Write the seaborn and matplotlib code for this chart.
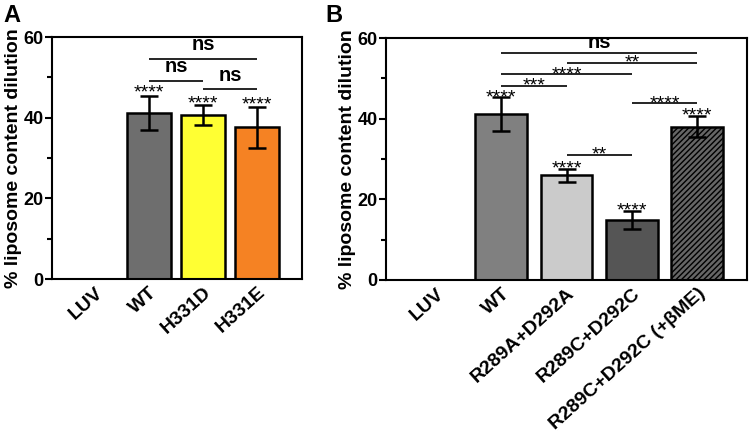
import matplotlib
matplotlib.use("Agg")
import matplotlib.pyplot as plt
import matplotlib.transforms as mtrans
import seaborn as sns
import pandas as pd
import numpy as np
from matplotlib.ticker import MultipleLocator

sns.set_style("ticks")
plt.rcParams['font.family'] = ['Liberation Sans', 'DejaVu Sans']
plt.rcParams['hatch.linewidth'] = 1.0
for k in ['text.color', 'axes.labelcolor', 'xtick.color', 'ytick.color', 'axes.edgecolor']:
    plt.rcParams[k] = 'black'

# Panel A data
cats_a = ["LUV", "WT", "H331D", "H331E"]
mean_a = [0.0, 41.2, 40.7, 37.7]
err_lo_a = [0.0, 4.2, 2.6, 5.2]
err_hi_a = [0.0, 4.2, 2.5, 4.9]
colors_a = ["#ffffff", "#6e6e6e", "#ffff33", "#f58223"]

# Panel B data
cats_b = ["LUV", "WT", "R289A+D292A", "R289C+D292C", "R289C+D292C (+βME)"]
mean_b = [0.0, 41.2, 26.0, 14.9, 38.0]
err_lo_b = [0.0, 4.2, 1.7, 2.3, 2.6]
err_hi_b = [0.0, 4.1, 1.6, 2.1, 2.6]
colors_b = ["#ffffff", "#808080", "#cbcbcb", "#555555", "#666666"]

# significance annotations: (x1, x2, y_line, label, label_center_y)
sig_a = [(1, 3, 54.5, "ns", 58.1), (1, 2, 49.1, "ns", 52.7), (2, 3, 47.1, "ns", 50.4)]
bar_stars_a = [(1, "****", 47.9), (2, "****", 45.2), (3, "****", 44.9)]
sig_b = [(1, 4, 56.4, "ns", 58.7), (2, 4, 53.9, "**", 55.4), (1, 3, 51.0, "****", 52.5),
         (1, 2, 48.1, "***", 49.8), (3, 4, 43.8, "****", 45.4), (2, 3, 30.9, "**", 32.7)]
bar_stars_b = [(1, "****", 46.9), (2, "****", 29.1), (3, "****", 18.8), (4, "****", 42.3)]

fig = plt.figure(figsize=(7.5, 4.45), dpi=100)
axA = fig.add_axes([0.0693, 0.373, 0.3333, 0.5438])
axB = fig.add_axes([0.5147, 0.3708, 0.4813, 0.5438])

STAR_FS = 14
NS_FS = 14.5
PX_PER_UNIT = 242 / 60.0


def pt2units(pt):
    return pt * 100 / 72.0 / PX_PER_UNIT


def draw(ax, cats, mean, lo, hi, colors, width, xlim, sig, stars):
    df = pd.DataFrame({"cat": cats, "val": mean})
    sns.barplot(data=df, x="cat", y="val", hue="cat", order=cats, hue_order=cats,
                palette=colors, width=width, edgecolor="black", linewidth=1.8,
                legend=False, ax=ax, errorbar=None, saturation=1)
    xs = np.arange(len(cats))
    for i in range(1, len(cats)):
        ax.errorbar(xs[i], mean[i], yerr=[[lo[i]], [hi[i]]], fmt="none",
                    ecolor="black", elinewidth=1.8, capsize=6.5, capthick=1.8, zorder=5)
    ax.set_xlim(*xlim)
    ax.set_ylim(0, 60)
    ax.yaxis.set_major_locator(MultipleLocator(20))
    ax.yaxis.set_minor_locator(MultipleLocator(10))
    ax.tick_params(axis="y", which="major", length=5, width=1.5, labelsize=13, pad=1)
    ax.tick_params(axis="y", which="minor", length=3.5, width=1.5)
    ax.tick_params(axis="x", length=0, labelsize=14, pad=3)
    for lab in ax.get_yticklabels():
        lab.set_fontweight("bold")
    ax.set_xticks(xs)
    ax.set_xticklabels(cats, rotation=42, ha="right", va="center",
                       rotation_mode="anchor", fontweight="bold")
    off = mtrans.ScaledTranslation(6 / 100.0, -7 / 100.0, fig.dpi_scale_trans)
    for lab in ax.get_xticklabels():
        lab.set_transform(lab.get_transform() + off)
    for sp in ax.spines.values():
        sp.set_visible(True)
        sp.set_linewidth(1.5)
        sp.set_color("black")
    ax.set_xlabel("")
    ax.set_ylabel("% liposome content dilution", fontsize=14, fontweight="bold", labelpad=1)
    for x1, x2, y, lab, cy in sig:
        ax.plot([x1, x2], [y, y], color="black", lw=1.2, solid_capstyle="butt", zorder=6)
        if lab == "ns":
            ax.text((x1 + x2) / 2, cy - 0.26 * pt2units(NS_FS), lab, ha="center",
                    va="baseline", fontsize=NS_FS, fontweight="bold", clip_on=False)
        else:
            ax.text((x1 + x2) / 2, cy - 0.58 * pt2units(STAR_FS), lab, ha="center",
                    va="baseline", fontsize=STAR_FS)
    for i, lab, cy in stars:
        ax.text(xs[i], cy - 0.58 * pt2units(STAR_FS), lab, ha="center", va="baseline",
                fontsize=STAR_FS)


draw(axA, cats_a, mean_a, err_lo_a, err_hi_a, colors_a, 0.81, (-0.79, 3.83), sig_a, bar_stars_a)
draw(axB, cats_b, mean_b, err_lo_b, err_hi_b, colors_b, 0.79, (-0.76, 4.76), sig_b, bar_stars_b)

# hatch the +βME bar
for p in axB.patches:
    if abs(p.get_x() + p.get_width() / 2 - 4) < 0.01:
        p.set_hatch("//////")
        try:
            p.set_hatchcolor("#262626")
        except Exception:
            pass

fig.text(0.004, 0.99, "A", fontsize=17, fontweight="bold", va="top", ha="left")
fig.text(0.434, 0.99, "B", fontsize=17, fontweight="bold", va="top", ha="left")

fig.savefig("out.png", dpi=100)
